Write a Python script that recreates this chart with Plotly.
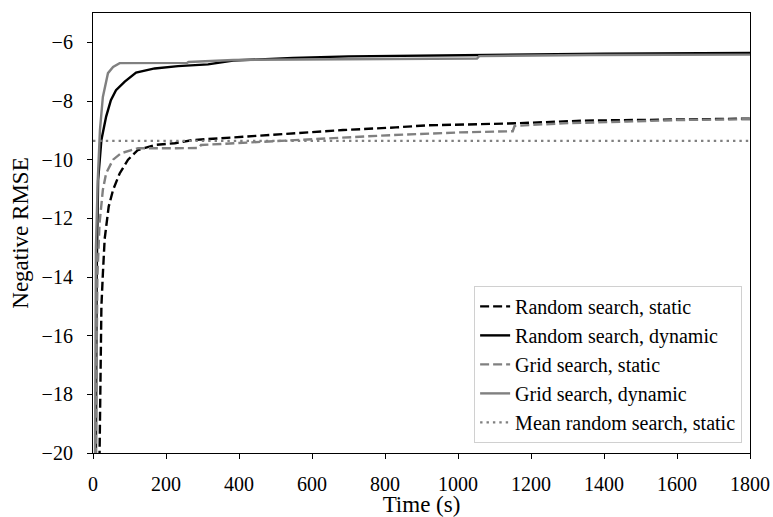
import plotly.graph_objects as go

# Best negative RMSE found so far, against wall-clock time (s)
rand_static_t = [16, 21, 23, 27, 32, 43, 55, 73, 96, 123, 169, 224, 274, 411, 548, 685, 830, 914, 1024, 1161, 1342, 1573, 1800]
rand_static_v = [-22, -16.7, -15.0, -13.9, -12.7, -11.6, -11.03, -10.47, -10.0, -9.67, -9.5, -9.44, -9.33, -9.22, -9.10, -8.99, -8.9, -8.83, -8.8, -8.76, -8.67, -8.63, -8.60]

rand_dyn_t = [5, 10, 14, 23, 36, 49, 63, 87, 118, 169, 233, 315, 384, 548, 700, 900, 1100, 1400, 1800]
rand_dyn_v = [-30, -14, -10.7, -9.33, -8.53, -7.97, -7.63, -7.34, -7.03, -6.89, -6.81, -6.75, -6.62, -6.53, -6.48, -6.45, -6.42, -6.39, -6.36]

grid_static_t = [4, 12, 18, 27, 36, 55, 77, 123, 229, 290, 296, 457, 641, 822, 1005, 1150, 1155, 1288, 1463, 1600, 1800]
grid_static_v = [-25, -14, -12.16, -11.03, -10.46, -10.0, -9.78, -9.61, -9.61, -9.6, -9.5, -9.39, -9.27, -9.16, -9.07, -9.03, -8.85, -8.76, -8.70, -8.65, -8.62]

grid_dyn_t = [2, 8, 13, 19, 27, 41, 55, 73, 258, 262, 384, 1052, 1058, 1360, 1800]
grid_dyn_v = [-30, -13, -10.7, -8.99, -7.86, -7.05, -6.84, -6.71, -6.70, -6.67, -6.60, -6.55, -6.47, -6.43, -6.42]

mean_t = [0, 1800]
mean_v = [-9.36, -9.36]

FONT = "Liberation Serif"
GRAY = "#808080"
LW = 2.4

fig = go.Figure()
fig.add_trace(go.Scatter(x=rand_static_t, y=rand_static_v, mode="lines",
                         name="Random search, static",
                         line=dict(color="black", width=LW, dash="9px,4px")))
fig.add_trace(go.Scatter(x=rand_dyn_t, y=rand_dyn_v, mode="lines",
                         name="Random search, dynamic",
                         line=dict(color="black", width=LW)))
fig.add_trace(go.Scatter(x=grid_static_t, y=grid_static_v, mode="lines",
                         name="Grid search, static",
                         line=dict(color=GRAY, width=LW, dash="9px,4px")))
fig.add_trace(go.Scatter(x=grid_dyn_t, y=grid_dyn_v, mode="lines",
                         name="Grid search, dynamic",
                         line=dict(color=GRAY, width=LW)))
fig.add_trace(go.Scatter(x=mean_t, y=mean_v, mode="lines",
                         name="Mean random search, static",
                         line=dict(color=GRAY, width=LW, dash="2.4px,4px")))

axis_common = dict(
    showgrid=False, zeroline=False, showline=True, mirror=True,
    linecolor="black", linewidth=1.2,
    ticks="outside", ticklen=5, tickwidth=1, tickcolor="black",
    tickfont=dict(family=FONT, size=20, color="black"),
    automargin=False,
)

fig.update_xaxes(range=[0, 1800], tickvals=list(range(0, 1801, 200)),
                 ticklabelstandoff=8,
                 title=dict(text="Time (s)", font=dict(family=FONT, size=23, color="black"), standoff=0),
                 **axis_common)
fig.update_yaxes(range=[-20, -5], tickvals=list(range(-20, -5, 2)),
                 ticklabelstandoff=10,
                 title=dict(text="Negative RMSE", font=dict(family=FONT, size=23, color="black"), standoff=6),
                 **axis_common)

fig.update_layout(
    width=773, height=517,
    margin=dict(l=93, r=23, t=13, b=64),
    plot_bgcolor="white", paper_bgcolor="white",
    font=dict(family=FONT, size=20, color="black"),
    legend=dict(x=0.988, y=0.023, xanchor="right", yanchor="bottom",
                bgcolor="white", bordercolor="#d0d0d0", borderwidth=1,
                font=dict(family=FONT, size=20, color="black")),
)

fig.write_html("out.html")
